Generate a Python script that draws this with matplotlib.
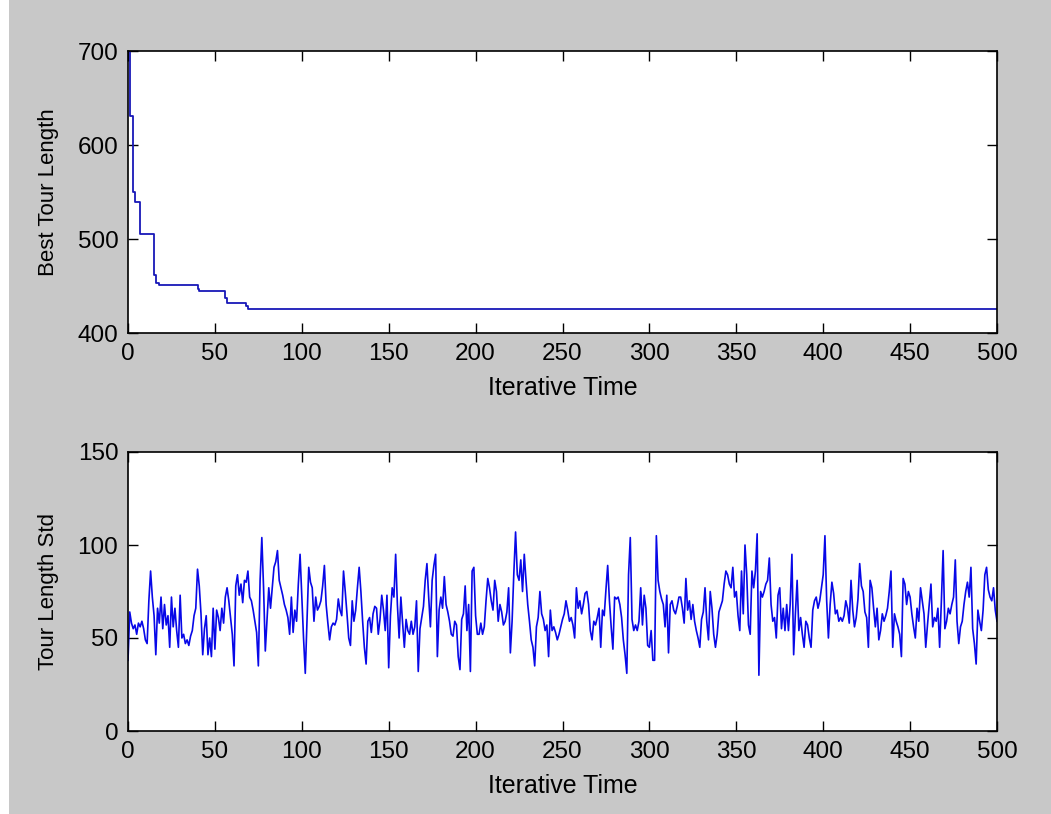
import matplotlib
matplotlib.use("Agg")
import numpy as np
import matplotlib.pyplot as plt
from matplotlib.patches import Rectangle

# best tour length: value held from each iteration until the next change
best_iter = [0, 1, 3, 4, 7, 15, 16, 18, 40, 41, 56, 57, 68, 69, 500]
best_len = [760, 631, 550, 539, 505, 462, 453, 451, 447, 445, 437, 432, 429, 426, 426]

# tour length std per iteration
std_0 = [38, 64, 58, 55, 57, 52, 58, 56, 59, 55, 49, 47, 70, 86, 72, 62, 41, 66, 58, 72,
         55, 68, 57, 62, 45, 72, 56, 66, 54, 45, 73, 50, 52, 47, 49, 46, 51, 54, 62, 66,
         87, 78, 63, 41, 55, 62, 41, 50, 40, 66,
         44, 65, 61, 54, 66, 58, 72, 77, 70, 61, 52, 35, 78, 84, 73, 79, 69, 81, 80, 86,
         72, 70, 65, 59, 53, 35, 81, 104, 77, 43, 60, 77, 66, 77, 88, 91, 97, 81, 77, 73,
         68, 65, 61, 52, 72, 53, 65, 59, 79, 95]
std_100 = [72, 50, 31, 60, 88, 80, 77, 59, 72, 65, 67, 70, 78, 89, 68, 58, 49, 56, 58, 57,
           60, 71, 65, 62, 86, 75, 63, 50, 46, 70, 59, 65, 77, 88, 75, 59, 45, 36, 59, 61,
           53, 63, 67, 66, 52, 60, 73, 65, 54, 73,
           34, 62, 77, 72, 95, 68, 50, 72, 58, 45, 60, 54, 52, 59, 52, 56, 70, 32, 55, 61,
           67, 81, 90, 72, 56, 81, 89, 95, 40, 65, 72, 66, 83, 68, 64, 59, 52, 51, 59, 57,
           40, 33, 60, 63, 78, 54, 68, 32, 86, 88]
std_200 = [62, 52, 52, 58, 52, 56, 70, 82, 77, 70, 65, 81, 75, 59, 68, 64, 57, 59, 64, 77,
           42, 59, 85, 107, 84, 81, 92, 75, 95, 81, 68, 59, 49, 45, 35, 56, 61, 75, 63, 60,
           54, 57, 40, 65, 54, 56, 53, 49, 52, 56,
           60, 63, 70, 65, 59, 61, 57, 50, 77, 66, 70, 63, 68, 74, 75, 68, 54, 49, 59, 57,
           61, 66, 45, 65, 62, 76, 89, 70, 56, 44, 72, 71, 72, 68, 61, 49, 41, 31, 84, 104,
           60, 54, 57, 54, 59, 77, 57, 73, 66, 46]
std_300 = [45, 54, 38, 38, 105, 81, 75, 71, 68, 56, 73, 42, 68, 70, 65, 63, 67, 72, 72, 66,
           58, 82, 65, 70, 60, 68, 59, 54, 50, 45, 60, 64, 77, 59, 49, 75, 66, 52, 45, 52,
           64, 67, 70, 79, 86, 84, 79, 77, 88, 72,
           75, 62, 54, 86, 63, 100, 84, 57, 52, 86, 77, 86, 106, 30, 75, 72, 75, 79, 81, 93,
           68, 59, 61, 50, 73, 77, 55, 66, 54, 68, 54, 68, 95, 41, 63, 81, 54, 61, 52, 45,
           59, 57, 50, 45, 65, 70, 72, 66, 70, 77]
std_400 = [84, 105, 70, 50, 68, 80, 74, 63, 65, 59, 61, 59, 62, 70, 66, 58, 81, 65, 56, 61,
           71, 90, 78, 75, 64, 61, 45, 81, 77, 66, 56, 66, 49, 54, 63, 59, 62, 66, 75, 86,
           45, 63, 59, 56, 52, 40, 82, 79, 68, 75,
           72, 63, 56, 50, 66, 59, 77, 70, 63, 45, 57, 68, 79, 56, 61, 59, 66, 45, 70, 97,
           55, 59, 66, 63, 68, 72, 92, 59, 47, 56, 59, 68, 75, 80, 72, 88, 55, 47, 36, 65,
           59, 54, 65, 84, 88, 76, 72, 70, 77, 65, 59]

std_vals = np.array(std_0 + std_100 + std_200 + std_300 + std_400)
iters = np.arange(len(std_vals))

xticks = list(range(0, 501, 50))

plt.rcParams['font.family'] = ['Liberation Sans', 'DejaVu Sans']

W, H = 1051, 814
fig = plt.figure(figsize=(W / 100, H / 100), dpi=100, facecolor='#c8c8c8')
fig.patches.append(Rectangle((0, 0), 9 / W, 1, transform=fig.transFigure,
                             facecolor='white', edgecolor='none', zorder=-1))

ax1 = fig.add_axes([128 / W, 1 - 333 / H, 869 / W, 282 / H])
ax2 = fig.add_axes([128 / W, 1 - 731 / H, 869 / W, 279 / H])

ax1.step(best_iter, best_len, where='post', color='#1818b8', lw=1.3)
ax1.set_ylim(400, 700)
ax1.set_yticks([400, 500, 600, 700])
ax1.set_ylabel('Best Tour Length', fontsize=16, labelpad=13)

ax2.plot(iters, std_vals, color='#0808e8', lw=1.2)
ax2.set_ylim(0, 150)
ax2.set_yticks([0, 50, 100, 150])
ax2.set_ylabel('Tour Length Std', fontsize=16, labelpad=13)

for ax in (ax1, ax2):
    ax.set_facecolor('white')
    ax.set_xlim(0, 500)
    ax.set_xticks(xticks)
    ax.set_xlabel('Iterative Time', fontsize=18, labelpad=8)
    ax.tick_params(direction='in', top=True, right=True, length=7, width=1,
                   labelsize=17.5, pad=7)
    for s in ax.spines.values():
        s.set_linewidth(1.2)

fig.savefig('out.png', dpi=100, facecolor=fig.get_facecolor())
